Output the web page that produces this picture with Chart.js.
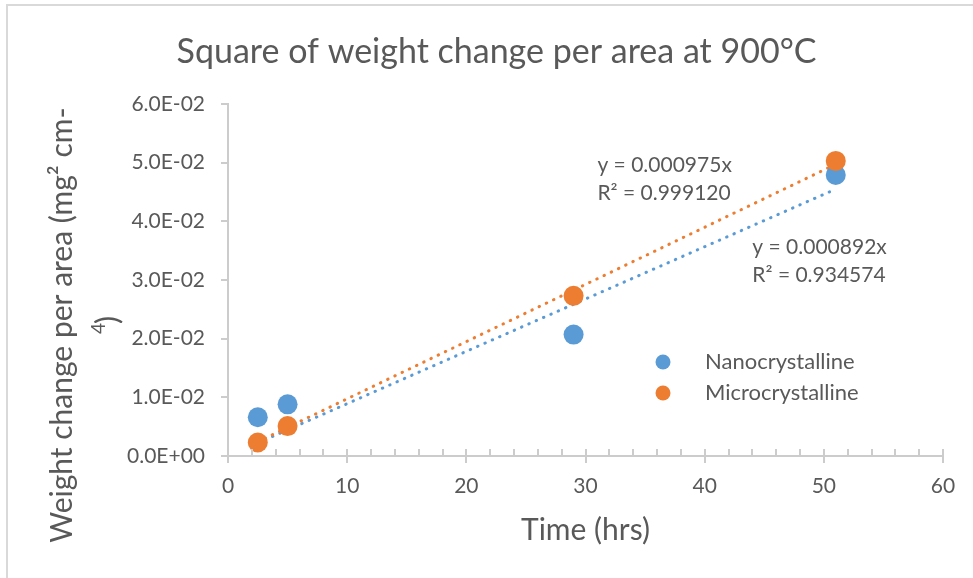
<!DOCTYPE html>
<html>
<head>
<meta charset="utf-8">
<script src="https://cdn.jsdelivr.net/npm/chart.js@4.4.1/dist/chart.umd.min.js"></script>
<style>
  html, body { margin: 0; padding: 0; background: #fff; }
  #wrap { position: relative; width: 973px; height: 578px; }
</style>
</head>
<body>
<div id="wrap"><canvas id="chart"></canvas></div>
<script>
// data
const timeHrs = [2.5, 5, 29, 51];
const nanoValues = [0.0066, 0.0088, 0.0207, 0.0479];
const microValues = [0.0023, 0.0051, 0.0273, 0.0503];
const seriesNames = ['Nanocrystalline', 'Microcrystalline'];
const trendSlopes = [0.000892, 0.000975];
const trendR2 = ['0.934574', '0.999120'];
const trendLabelAt = [[44.0, 0.0356], [31.0, 0.0496]]; // data coords of label's first line
const xTicks = [0, 10, 20, 30, 40, 50, 60];
const yTicks = [0, 0.01, 0.02, 0.03, 0.04, 0.05, 0.06];

const blue = '#5B9BD5';
const orange = '#ED7D31';
const textGray = '#595959';
const axisGray = '#CCCCCC';
const fontFam = 'Lato, "Open Sans", sans-serif';

function toPoints(xs, ys){
  return xs.map((x, i) => ({x: x, y: ys[i]}));
}
function trendPoints(slope){
  const x0 = timeHrs[0], x1 = timeHrs[timeHrs.length-1];
  return [{x: x0, y: slope*x0}, {x: x1, y: slope*x1}];
}
function sciLabel(v){
  let s = Number(v).toExponential(1).toUpperCase();
  return s.replace(/E([+-])(\d)$/, 'E$10$2');
}

// frame, minor ticks, y title, trend labels, legend
const extras = {
  id: 'extras',
  beforeDraw(chart){
    const ctx = chart.ctx;
    ctx.save();
    ctx.fillStyle = '#fff';
    ctx.fillRect(0, 0, chart.width, chart.height);
    ctx.strokeStyle = '#D9D9D9';
    ctx.lineWidth = 2;
    ctx.beginPath();
    ctx.moveTo(chart.width, 5);
    ctx.lineTo(7, 5);
    ctx.lineTo(7, chart.height);
    ctx.stroke();
    ctx.restore();
  },
  afterDraw(chart){
    const ctx = chart.ctx;
    const xs = chart.scales.x, ys = chart.scales.y;
    const area = chart.chartArea;
    ctx.save();
    // small ticks above the x axis every 2 hrs
    ctx.strokeStyle = axisGray;
    ctx.lineWidth = 2;
    ctx.beginPath();
    for (let t = 0; t <= 60; t += 2) {
      const px = Math.round(xs.getPixelForValue(t));
      ctx.moveTo(px, area.bottom);
      ctx.lineTo(px, area.bottom - 7);
    }
    ctx.stroke();

    // y axis title, two lines as in the original
    ctx.fillStyle = textGray;
    ctx.font = '30px ' + fontFam;
    ctx.textAlign = 'center';
    ctx.textBaseline = 'middle';
    ctx.save();
    ctx.translate(62, 325);
    ctx.rotate(-Math.PI/2);
    ctx.fillText('Weight change per area (mg² cm-', 0, 0);
    ctx.restore();
    ctx.save();
    ctx.translate(108, 323);
    ctx.rotate(-Math.PI/2);
    ctx.textAlign = 'left';
    ctx.font = '19px ' + fontFam;
    ctx.fillText('4', -11, -9);
    ctx.font = '30px ' + fontFam;
    ctx.fillText(')', -1, 0);
    ctx.restore();

    // trendline equations
    ctx.font = '21px ' + fontFam;
    ctx.textAlign = 'left';
    trendSlopes.forEach((s, i) => {
      const px = xs.getPixelForValue(trendLabelAt[i][0]);
      const py = ys.getPixelForValue(trendLabelAt[i][1]);
      ctx.fillText('y = ' + s.toFixed(6) + 'x', px, py);
      ctx.fillText('R² = ' + trendR2[i], px, py + 28);
    });

    // legend
    ctx.font = '22px ' + fontFam;
    const colors = [blue, orange];
    seriesNames.forEach((name, i) => {
      const ly = 362 + i*31;
      ctx.fillStyle = colors[i];
      ctx.beginPath();
      ctx.arc(663, ly, 7.5, 0, Math.PI*2);
      ctx.fill();
      ctx.fillStyle = textGray;
      ctx.fillText(name, 705, ly);
    });
    ctx.restore();
  }
};

const ctx = document.getElementById('chart');
new Chart(ctx, {
  type: 'scatter',
  data: {
    datasets: [
      {
        label: seriesNames[1], data: toPoints(timeHrs, microValues), order: 0,
        backgroundColor: orange, borderColor: orange, pointRadius: 10, pointBorderWidth: 0
      },
      {
        label: seriesNames[0], data: toPoints(timeHrs, nanoValues), order: 1,
        backgroundColor: blue, borderColor: blue, pointRadius: 10, pointBorderWidth: 0
      },
      {
        label: 'trend micro', data: trendPoints(trendSlopes[1]), order: 2, showLine: true,
        borderColor: orange, borderWidth: 3, borderDash: [0.5, 7.5], borderCapStyle: 'round',
        pointRadius: 0
      },
      {
        label: 'trend nano', data: trendPoints(trendSlopes[0]), order: 3, showLine: true,
        borderColor: blue, borderWidth: 3, borderDash: [0.5, 7.5], borderCapStyle: 'round',
        pointRadius: 0
      }
    ]
  },
  options: {
    responsive: true,
    maintainAspectRatio: false,
    animation: false,
    layout: { padding: { left: 50, right: 30, top: 0, bottom: 0 } },
    plugins: {
      legend: { display: false },
      tooltip: { enabled: false },
      title: {
        display: true,
        text: 'Square of weight change per area at 900°C',
        color: textGray,
        font: { family: fontFam, size: 34, weight: 'normal', lineHeight: 1.2 },
        padding: { top: 31.6, bottom: 31.6 }
      }
    },
    scales: {
      x: {
        type: 'linear', min: 0, max: 60,
        afterFit(scale){ scale.height = 122; },
        afterBuildTicks(scale){ scale.ticks = xTicks.map(v => ({value: v})); },
        border: { color: axisGray, width: 2 },
        grid: { drawOnChartArea: false, tickLength: 7, color: axisGray, lineWidth: 2 },
        ticks: { color: textGray, font: { family: fontFam, size: 21 }, padding: 11, maxRotation: 0 },
        title: {
          display: true, text: 'Time (hrs)', color: textGray,
          font: { family: fontFam, size: 30, lineHeight: 1.2 },
          padding: { top: 0, bottom: 30 }
        }
      },
      y: {
        type: 'linear', min: 0, max: 0.06,
        afterFit(scale){ scale.width = 178; },
        afterBuildTicks(scale){ scale.ticks = yTicks.map(v => ({value: v})); },
        border: { color: axisGray, width: 2 },
        grid: { drawOnChartArea: false, tickLength: 7, color: axisGray, lineWidth: 2 },
        ticks: { color: textGray, font: { family: fontFam, size: 21 }, padding: 16, callback: v => sciLabel(v) }
      }
    }
  },
  plugins: [extras]
});
</script>
</body>
</html>
